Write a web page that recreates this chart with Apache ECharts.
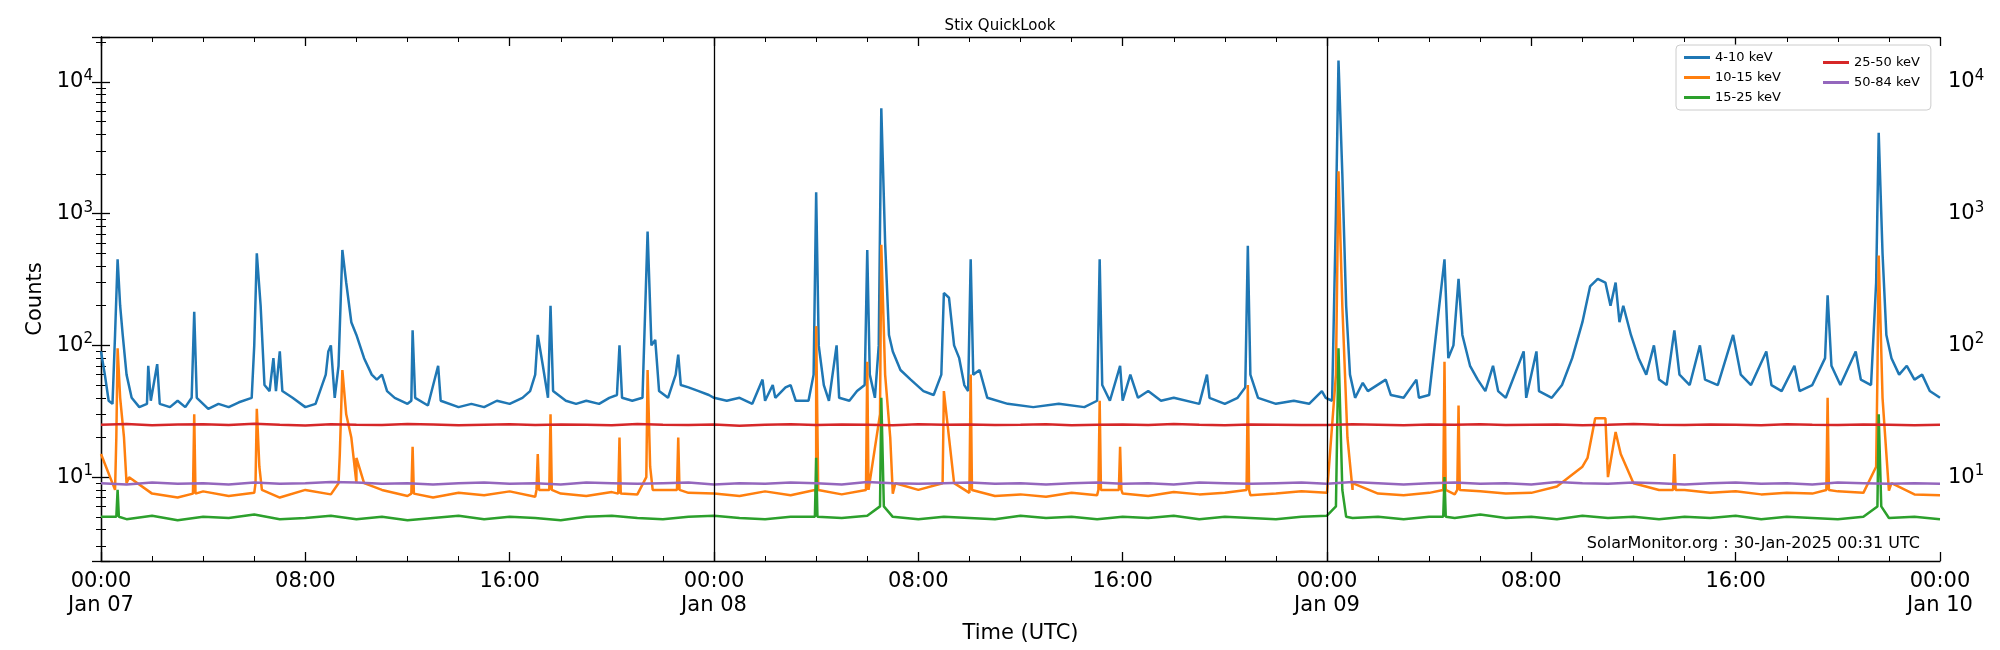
<!DOCTYPE html>
<html>
<head>
<meta charset="utf-8">
<script src="https://cdn.jsdelivr.net/npm/echarts@6/dist/echarts.min.js"></script>
<style>html,body{margin:0;padding:0;background:#fff}#chart{width:2000px;height:650px}</style>
</head>
<body>
<div id="chart"></div>
<script>
// hours since Jan 07 00:00 UTC, counts
var blue = [[0,90],[0.15,60],[0.3,38],[0.45,36],[0.55,120],[0.65,450],[0.75,200],[0.85,120],[1.0,60],[1.2,40],[1.5,34],[1.8,36],[1.85,70],[1.95,38],[2.2,72],[2.3,36],[2.7,34],[3.0,38],[3.3,34],[3.55,40],[3.65,180],[3.75,40],[4.2,33],[4.6,36],[5.0,34],[5.4,37],[5.9,40],[6.0,100],[6.1,500],[6.25,200],[6.4,50],[6.6,45],[6.75,80],[6.85,45],[7.0,90],[7.1,45],[7.5,40],[8.0,34],[8.4,36],[8.8,60],[8.9,90],[9.0,100],[9.15,40],[9.3,70],[9.45,530],[9.6,300],[9.8,150],[10.0,120],[10.3,80],[10.6,60],[10.8,55],[11.0,60],[11.2,45],[11.5,40],[12.0,36],[12.15,38],[12.2,130],[12.3,40],[12.8,35],[13.2,70],[13.3,38],[14.0,34],[14.5,36],[15.0,34],[15.5,38],[16.0,36],[16.5,40],[16.8,45],[17.0,60],[17.1,120],[17.3,70],[17.5,40],[17.6,200],[17.7,45],[18.2,38],[18.6,36],[19.0,38],[19.5,36],[19.9,40],[20.2,42],[20.3,100],[20.4,40],[20.8,38],[21.2,40],[21.4,730],[21.55,100],[21.7,110],[21.85,45],[22.2,40],[22.5,60],[22.6,85],[22.7,50],[23.0,48],[23.4,45],[23.8,42],[24.0,40],[24.5,38],[25.0,40],[25.5,36],[25.9,55],[26.0,38],[26.3,50],[26.4,40],[26.8,48],[27.0,50],[27.2,38],[27.7,38],[27.9,60],[28.0,1450],[28.1,100],[28.3,50],[28.5,38],[28.8,100],[28.9,40],[29.3,38],[29.6,45],[29.9,50],[30.0,530],[30.1,60],[30.3,40],[30.45,100],[30.55,6300],[30.7,600],[30.85,120],[31.0,90],[31.3,65],[31.7,55],[32.2,45],[32.6,42],[32.9,60],[33.0,250],[33.2,230],[33.4,100],[33.6,80],[33.8,50],[33.95,45],[34.05,450],[34.15,60],[34.4,65],[34.7,40],[35.5,36],[36.5,34],[37.5,36],[38.5,34],[39.0,38],[39.1,450],[39.2,50],[39.5,38],[39.9,70],[40.0,38],[40.3,60],[40.6,40],[41.0,45],[41.5,38],[42.0,40],[43.0,36],[43.3,60],[43.4,40],[44.0,36],[44.5,40],[44.8,48],[44.9,570],[45.0,60],[45.3,40],[46.0,36],[46.7,38],[47.3,36],[47.8,45],[47.95,40],[48.2,38],[48.35,1000],[48.45,14500],[48.6,2000],[48.75,200],[48.9,60],[49.1,40],[49.4,52],[49.6,45],[50.3,55],[50.5,42],[51.0,40],[51.5,55],[51.6,40],[52.0,42],[52.6,450],[52.75,80],[52.95,100],[53.15,320],[53.3,120],[53.6,70],[53.9,55],[54.2,45],[54.5,70],[54.7,45],[55.0,40],[55.7,90],[55.8,40],[56.2,90],[56.3,45],[56.8,40],[57.2,50],[57.6,80],[58.0,150],[58.3,280],[58.6,320],[58.9,300],[59.1,200],[59.3,300],[59.45,150],[59.6,200],[59.9,120],[60.2,80],[60.5,60],[60.8,100],[61.0,55],[61.3,50],[61.6,130],[61.8,60],[62.2,50],[62.6,100],[62.8,55],[63.3,50],[63.9,120],[64.2,60],[64.6,50],[65.2,90],[65.4,50],[65.8,45],[66.3,70],[66.5,45],[67.0,50],[67.5,80],[67.6,240],[67.75,70],[68.1,50],[68.7,90],[68.9,55],[69.3,50],[69.5,300],[69.6,4100],[69.75,500],[69.9,120],[70.1,80],[70.4,60],[70.7,70],[71.0,55],[71.3,60],[71.6,45],[72,40]];

// hourly background levels (index = hour)
var orangeBase = [15,9,7.5,7,7.8,7.2,7.6,7,8,7.4,9,8,7.2,7,7.6,7.3,7.8,7.1,7.5,7.2,7.7,7.4,8,7.6,7.5,7.2,7.8,7.3,7.6,7.4,7.9,7.5,8,9,7.6,7.2,7.4,7.1,7.6,7.3,7.5,7.2,7.7,7.4,7.6,7.3,7.5,7.8,7.6,8,7.5,7.3,7.6,7.4,7.8,7.5,7.6,8.5,12,10,9,8,8,7.6,7.8,7.4,7.6,7.5,7.8,7.6,7.9,7.4,7.3];
var orangePeaks = [[0.55,8],[0.6,20],[0.65,95],[0.75,40],[0.9,20],[1.1,10],[3.6,7.5],[3.65,30],[3.7,7.5],[6.05,9],[6.1,33],[6.2,12],[6.3,8],[9.3,9],[9.35,15],[9.45,65],[9.6,30],[9.8,20],[10.0,14],[10.3,9],[12.15,7.5],[12.2,17],[12.25,7.5],[17.05,8],[17.1,15],[17.15,8],[17.55,8],[17.6,30],[17.65,8],[20.25,7.5],[20.3,20],[20.35,7.5],[21.35,10],[21.4,65],[21.5,12],[21.6,8],[22.55,8],[22.6,20],[22.65,8],[27.95,8],[28.0,140],[28.08,8],[29.95,8],[30.0,75],[30.05,8],[30.5,30],[30.55,580],[30.7,60],[30.9,20],[31.1,9],[32.95,9],[33.0,45],[33.2,20],[33.4,9],[34.0,8],[34.05,60],[34.1,8],[39.05,8],[39.1,38],[39.15,8],[39.85,8],[39.9,17],[39.95,8],[44.85,8],[44.9,50],[44.95,8],[48.35,60],[48.45,2100],[48.6,200],[48.8,20],[49.0,9],[52.55,8],[52.6,75],[52.65,8],[53.1,8],[53.15,35],[53.2,8],[58.2,14],[58.5,28],[58.9,28],[59.3,22],[59.5,15],[61.55,8],[61.6,15],[61.65,8],[67.55,8],[67.6,40],[67.65,8],[69.5,12],[69.55,60],[69.6,480],[69.75,40],[69.9,15],[70.1,9]];

var greenBase = [5,4.8,5.1,4.7,5,4.9,5.2,4.8,4.9,5.1,4.8,5,4.7,4.9,5.1,4.8,5,4.9,4.7,5,5.1,4.9,4.8,5,5.1,4.9,4.8,5,5,4.9,5.1,5,4.8,5,4.9,4.8,5.1,4.9,5,4.8,5,4.9,5.1,4.8,5,4.9,4.8,5,5.1,4.9,5,4.8,5,4.9,5.2,4.9,5,4.8,5.1,4.9,5,4.8,5,4.9,5.1,4.8,5,4.9,4.8,5,4.9,5,4.8];
var greenPeaks = [[0.6,5],[0.65,8],[0.7,5],[27.95,5],[28.0,14],[28.05,5],[30.5,6],[30.55,40],[30.65,6],[48.35,6],[48.45,95],[48.6,8],[48.75,5],[52.55,5],[52.6,10],[52.65,5],[69.55,6],[69.6,30],[69.7,6]];

var redBase = [25,25.3,24.8,25.1,25.2,24.9,25.4,25,24.7,25.2,25,24.9,25.3,25.1,24.8,25,25.2,24.9,25.1,25,24.8,25.3,25,24.9,25.1,24.6,25,25.2,24.9,25.1,25,24.8,25.2,25,25.1,24.9,25,25.2,24.8,25,25.1,24.9,25.3,25,24.8,25.1,25,24.9,24.9,25.2,25,24.8,25.1,25,25.2,24.9,25,25.1,24.8,25,25.3,25,24.9,25.1,25,24.8,25.2,25,24.9,25.1,25,24.8,25];
var purpleBase = [9,8.8,9.1,8.9,9,8.8,9.1,8.9,9,9.2,9.1,8.9,9,8.8,9,9.1,8.9,9,8.8,9.1,9,8.9,9,9.1,8.8,9,8.9,9.1,9,8.8,9.2,9,8.9,9,9.1,8.9,9,8.8,9,9.1,8.9,9,8.8,9.1,9,8.9,9,9.1,8.9,9.2,9,8.8,9,9.1,8.9,9,8.8,9.2,9,8.9,9.1,9,8.8,9,9.1,8.9,9,8.8,9.1,9,8.9,9,8.9];

var seriesNames = ['4-10 keV','10-15 keV','15-25 keV','25-50 keV','50-84 keV'];
var colors = ['#1f77b4','#ff7f0e','#2ca02c','#d62728','#9467bd'];
var dayLabels = ['Jan 07','Jan 08','Jan 09','Jan 10'];

function hourly(arr) {
    return arr.map(function (v, i) { return [i, v]; });
}
function merged(base, peaks) {
    var out = hourly(base).concat(peaks);
    out.sort(function (a, b) { return a[0] - b[0]; });
    return out;
}

var lines = [blue, merged(orangeBase, orangePeaks), merged(greenBase, greenPeaks), hourly(redBase), hourly(purpleBase)];

function pad(n) { return (n < 10 ? '0' : '') + n; }
function logLabel(v) {
    var l = Math.log10(v), n = Math.round(l);
    if (Math.abs(l - n) > 0.01) return '';
    return '{b|10}{s|' + n + '}';
}
var richLbl = { b: { fontSize: 21, color: '#000', fontFamily: 'DejaVu Sans' }, s: { fontSize: 15, color: '#000', verticalAlign: 'top', padding: [0, 0, 12, 0], fontFamily: 'DejaVu Sans' } };

var myChart = echarts.init(document.getElementById('chart'));
var yCommon = {
    type: 'log', min: 2.31, max: 21900, logBase: 10,
    axisLine: { show: true, lineStyle: { color: '#000', width: 1.3 } },
    axisTick: { inside: true, length: 9, lineStyle: { color: '#000', width: 1.3 } },
    minorTick: { show: true, splitNumber: 9, length: 5, lineStyle: { color: '#000' } },
    splitLine: { show: false },
    axisLabel: { formatter: logLabel, rich: richLbl, showMinLabel: false, showMaxLabel: false }
};
var xCommon = {
    type: 'value', min: 0, max: 72, interval: 8,
    axisLine: { show: true, onZero: false, lineStyle: { color: '#000', width: 1.3 } },
    axisTick: { inside: true, length: 9, lineStyle: { color: '#000', width: 1.3 } },
    minorTick: { show: true, splitNumber: 4, length: 5, lineStyle: { color: '#000' } },
    splitLine: { show: false }
};

var option = {
    animation: false,
    title: { text: 'Stix QuickLook', left: 'center', top: 14, textStyle: { fontSize: 15, fontWeight: 'normal', color: '#000', fontFamily: 'DejaVu Sans' } },
    grid: { left: 101, right: 60, top: 37, bottom: 89 },
    legend: [
        { data: seriesNames.slice(0, 3), orient: 'vertical', left: 1676, top: 45, itemGap: 7, itemWidth: 26, itemHeight: 3, icon: 'rect',
          textStyle: { fontSize: 13, fontFamily: 'DejaVu Sans', color: '#000' },
          backgroundColor: '#fff', borderColor: '#ccc', borderWidth: 1, borderRadius: 4, padding: [6, 150, 6, 8] },
        { data: seriesNames.slice(3), orient: 'vertical', left: 1818, top: 51, itemGap: 7, itemWidth: 26, itemHeight: 3, icon: 'rect',
          textStyle: { fontSize: 13, fontFamily: 'DejaVu Sans', color: '#000' } }
    ],
    xAxis: [
        Object.assign({}, xCommon, { position: 'bottom', name: 'Time (UTC)', nameLocation: 'middle', nameGap: 62,
            nameTextStyle: { fontSize: 21, color: '#000', fontFamily: 'DejaVu Sans' },
            axisLabel: { fontSize: 21, color: '#000', fontFamily: 'DejaVu Sans', lineHeight: 24, margin: 9,
                formatter: function (v) { return pad(v % 24) + ':00' + (v % 24 === 0 ? '\n' + dayLabels[v / 24] : '\n '); } } }),
        Object.assign({}, xCommon, { position: 'top', axisLabel: { show: false } })
    ],
    yAxis: [
        Object.assign({}, yCommon, { position: 'left', name: 'Counts', nameLocation: 'middle', nameGap: 50,
            nameTextStyle: { fontSize: 21, color: '#000', fontFamily: 'DejaVu Sans' } }),
        Object.assign({}, yCommon, { position: 'right' })
    ],
    graphic: [{ type: 'text', right: 80, top: 536, style: { text: 'SolarMonitor.org : 30-Jan-2025 00:31 UTC', fontSize: 16, fill: '#000', fontFamily: 'DejaVu Sans' } }],
    series: lines.map(function (d, i) {
        var s = { name: seriesNames[i], type: 'line', data: d, showSymbol: false, symbol: 'none',
            lineStyle: { color: colors[i], width: 2.5 }, itemStyle: { color: colors[i] } };
        if (i === 0) s.markLine = { symbol: 'none', silent: true, label: { show: false },
            lineStyle: { color: '#000', width: 1.3, type: 'solid' }, data: [{ xAxis: 24 }, { xAxis: 48 }] };
        return s;
    })
};
myChart.setOption(option);
</script>
</body>
</html>
